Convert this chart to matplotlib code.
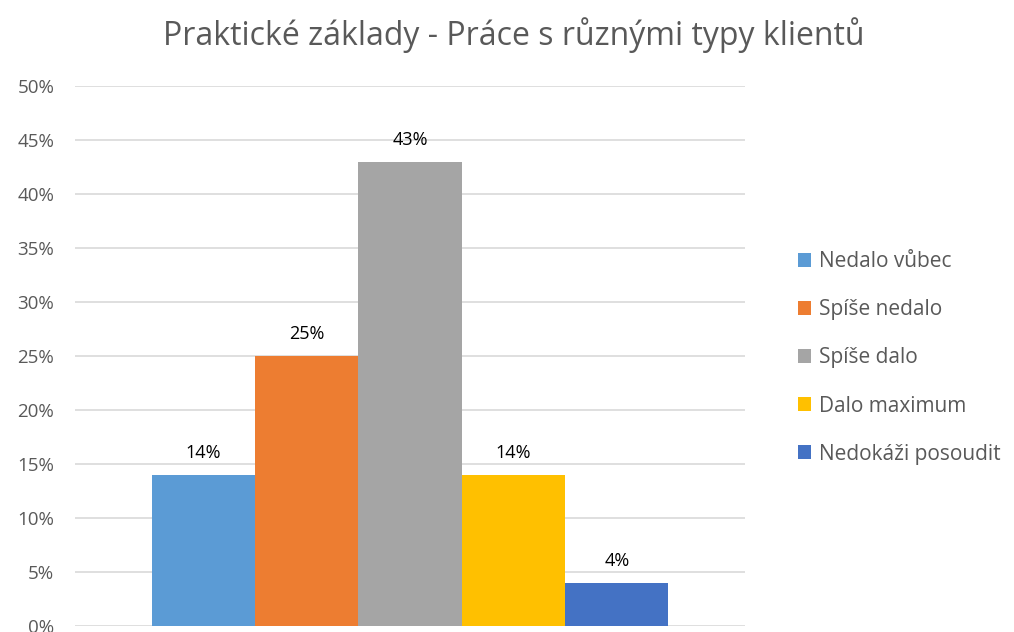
import matplotlib
matplotlib.use("Agg")
import matplotlib.pyplot as plt
from matplotlib.patches import Patch
from matplotlib.ticker import FuncFormatter

# data
categories = ["Nedalo vůbec", "Spíše nedalo", "Spíše dalo", "Dalo maximum", "Nedokáži posoudit"]
values = [14, 25, 43, 14, 4]
colors = ["#5B9BD5", "#ED7D31", "#A5A5A5", "#FFC000", "#4472C4"]
title = "Praktické základy - Práce s různými typy klientů"

plt.rcParams['font.family'] = ['Open Sans', 'DejaVu Sans']
text_color = "#595959"

fig = plt.figure(figsize=(10.14, 6.32), dpi=100)
ax = fig.add_axes([75 / 1014, 6 / 632, 670 / 1014, 540 / 632])

x = list(range(len(values)))
bars = ax.bar(x, values, width=1.0, color=colors, zorder=3)

for xi, v in zip(x, values):
    ax.text(xi, v + 1.2, f"{v}%", ha="center", va="bottom", fontsize=13, color="black")

ax.set_xlim(-1.24, 5.24)
ax.set_ylim(0, 50)
ax.set_yticks(range(0, 51, 5))
ax.yaxis.set_major_formatter(FuncFormatter(lambda v, p: f"{int(v)}%"))
ax.set_xticks([])
ax.tick_params(axis="y", length=0, labelsize=13.5, labelcolor=text_color, pad=15)
ax.grid(axis="y", color="#D9D9D9", linewidth=1.2, zorder=0)
for s in ax.spines.values():
    s.set_visible(False)

fig.text(514 / 1014, 1 - 35 / 632, title, ha="center", va="center", fontsize=23, color=text_color)

handles = [Patch(facecolor=c, label=l) for c, l in zip(colors, categories)]
fig.legend(handles=handles, loc="center left", bbox_to_anchor=(779 / 1014, 1 - 358 / 632),
           frameon=False, fontsize=15, labelcolor=text_color, handlelength=0.65, handleheight=0.65,
           handletextpad=0.35, labelspacing=1.3)

fig.savefig("out.png", dpi=100)
